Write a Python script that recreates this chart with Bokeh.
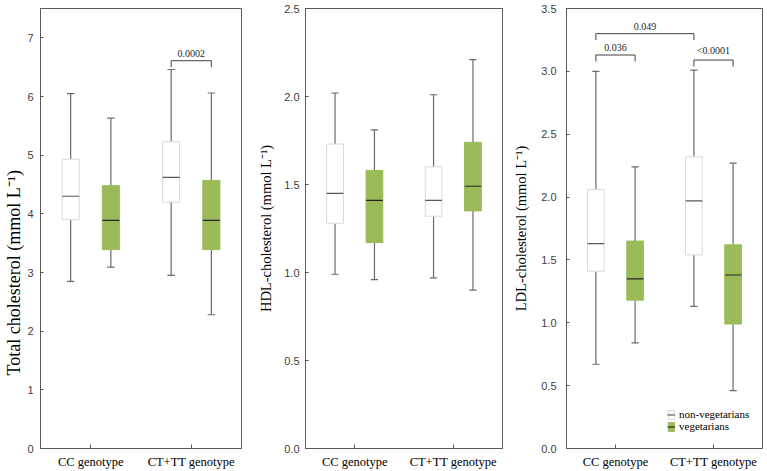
from bokeh.plotting import figure
from bokeh.layouts import row
from bokeh.models import FixedTicker, PrintfTickFormatter, Legend, LegendItem, Range1d, Title
from bokeh.core.properties import value
from bokeh.embed import file_html
from bokeh.resources import INLINE

categories = ["CC genotype", "CT+TT genotype"]
groups = ["non-vegetarians", "vegetarians"]

# five-number summaries per category: (min, q1, median, q3, max)
tc_nonveg = [(2.85, 3.90, 4.30, 4.93, 6.05), (2.95, 4.20, 4.62, 5.23, 6.46)]
tc_veg = [(3.09, 3.39, 3.89, 4.48, 5.63), (2.28, 3.39, 3.89, 4.57, 6.06)]
hdl_nonveg = [(0.99, 1.28, 1.45, 1.73, 2.02), (0.97, 1.32, 1.41, 1.60, 2.01)]
hdl_veg = [(0.96, 1.17, 1.41, 1.58, 1.81), (0.90, 1.35, 1.49, 1.74, 2.21)]
ldl_nonveg = [(0.67, 1.41, 1.63, 2.06, 3.00), (1.13, 1.54, 1.97, 2.32, 3.01)]
ldl_veg = [(0.84, 1.18, 1.35, 1.65, 2.24), (0.46, 0.99, 1.38, 1.62, 2.27)]

# comparisons: (category a, group a, category b, group b, bracket level, p-value)
tc_pvals = [(1, 0, 1, 1, 6.61, "0.0002")]
hdl_pvals = []
ldl_pvals = [(0, 0, 1, 0, 3.30, "0.049"),
             (0, 0, 0, 1, 3.13, "0.036"),
             (1, 0, 1, 1, 3.09, "<0.0001")]

tc_ticks = [0, 1, 2, 3, 4, 5, 6, 7]
hdl_ticks = [0.0, 0.5, 1.0, 1.5, 2.0, 2.5]
ldl_ticks = [0.0, 0.5, 1.0, 1.5, 2.0, 2.5, 3.0, 3.5]

GREEN = "#9bbb59"
BOX_LINE = ["#d9d9d9", "#9bbb59"]
BOX_FILL = ["#ffffff", GREEN]
MED_COLOR = ["#595959", "#262626"]
WHISK = "#6b6b6b"
FRAME = "#595959"
SERIF = "Liberation Serif"
SANS = "Liberation Sans"

OFFS = [-0.2, 0.2]
BOXW = 0.17
CAPW = 0.037


def make_panel(ylabel, series, y_end, ticks, fmt, comps, width, bl, br, legend=False,
               label_standoff=5, tick_standoff=6, label_size="14.5px", side_title=False):
    p = figure(width=width, height=471, output_backend="svg", toolbar_location=None,
               x_range=Range1d(0, 2), y_range=Range1d(0, y_end),
               min_border_left=bl, min_border_right=br, min_border_top=8, min_border_bottom=23)
    p.xgrid.visible = False
    p.ygrid.visible = False
    p.outline_line_color = FRAME
    p.outline_line_width = 1
    p.background_fill_color = "white"
    p.border_fill_color = "white"

    cat_x = [i + 0.5 for i in range(len(categories))]
    legend_items = []
    for gi, data in enumerate(series):
        xs = [c + OFFS[gi] for c in cat_x]
        lo = [d[0] for d in data]
        q1 = [d[1] for d in data]
        md = [d[2] for d in data]
        q3 = [d[3] for d in data]
        hi = [d[4] for d in data]
        p.segment(x0=xs, y0=lo, x1=xs, y1=q1, line_color=WHISK, line_width=1.2)
        p.segment(x0=xs, y0=q3, x1=xs, y1=hi, line_color=WHISK, line_width=1.2)
        p.segment(x0=[x - CAPW for x in xs], y0=hi, x1=[x + CAPW for x in xs], y1=hi,
                  line_color=WHISK, line_width=1.2)
        p.segment(x0=[x - CAPW for x in xs], y0=lo, x1=[x + CAPW for x in xs], y1=lo,
                  line_color=WHISK, line_width=1.2)
        box = p.vbar(x=xs, width=BOXW, bottom=q1, top=q3, fill_color=BOX_FILL[gi],
                     line_color=BOX_LINE[gi], line_width=1)
        med = p.segment(x0=[x - BOXW / 2 for x in xs], y0=md, x1=[x + BOXW / 2 for x in xs], y1=md,
                        line_color=MED_COLOR[gi], line_width=1.2)
        legend_items.append(LegendItem(label=groups[gi], renderers=[box, med]))

    drop = y_end * 6.5 / 440.0
    for (ca, ga, cb, gb, lev, lab) in comps:
        xa = cat_x[ca] + OFFS[ga]
        xb = cat_x[cb] + OFFS[gb]
        p.segment(x0=[xa, xa, xb], y0=[lev, lev, lev], x1=[xb, xa, xb], y1=[lev, lev - drop, lev - drop],
                  line_color="#404040", line_width=1)
        p.text(x=[(xa + xb) / 2], y=[lev], text=[lab], text_font=value(SERIF), text_font_size="10px",
               text_color="#262626", text_align="center", text_baseline="bottom", y_offset=-4)

    p.xaxis.ticker = FixedTicker(ticks=cat_x)
    p.xaxis.major_label_overrides = {cat_x[i]: categories[i] for i in range(len(categories))}
    p.xaxis.minor_tick_line_color = None
    p.xaxis.major_tick_in = 4
    p.xaxis.major_tick_out = 0
    p.xaxis.axis_line_color = FRAME
    p.xaxis.major_tick_line_color = FRAME
    p.xaxis.major_label_text_font = SERIF
    p.xaxis.major_label_text_font_size = "12.5px"
    p.xaxis.major_label_text_color = "#000000"
    p.xaxis.major_label_standoff = 6

    p.yaxis.ticker = FixedTicker(ticks=ticks)
    p.yaxis.formatter = PrintfTickFormatter(format=fmt)
    p.yaxis.minor_tick_line_color = None
    p.yaxis.major_tick_in = 3
    p.yaxis.major_tick_out = 0
    p.yaxis.axis_line_color = FRAME
    p.yaxis.major_tick_line_color = FRAME
    p.yaxis.major_label_text_font = SANS
    p.yaxis.major_label_text_font_size = "11px"
    p.yaxis.major_label_text_color = "#404040"
    p.yaxis.major_label_standoff = tick_standoff

    if side_title:
        t = Title(text=ylabel, align="left", offset=73, vertical_align="middle", standoff=0,
                  text_font=SERIF, text_font_size=label_size, text_font_style="normal",
                  text_color="#000000")
        p.add_layout(t, "left")
    else:
        p.yaxis.axis_label = ylabel
        p.yaxis.axis_label_text_font = SERIF
        p.yaxis.axis_label_text_font_size = label_size
        p.yaxis.axis_label_text_font_style = "normal"
        p.yaxis.axis_label_text_color = "#000000"
        p.yaxis.axis_label_standoff = label_standoff

    if legend:
        lg = Legend(items=legend_items, location=(101, 16), padding=0, margin=0, spacing=0,
                    glyph_width=8, glyph_height=11, label_height=11, label_standoff=4,
                    label_text_font=SERIF, label_text_font_size="11px", label_text_color="#000000",
                    border_line_alpha=0, background_fill_alpha=0)
        p.add_layout(lg)
    return p


p1 = make_panel("Total cholesterol (mmol L\u207b\u00b9)", [tc_nonveg, tc_veg], 7.5, tc_ticks, "%d",
                tc_pvals, 255, 40, 14, tick_standoff=7, label_size="18px", side_title=True)
p2 = make_panel("HDL-cholesterol (mmol L\u207b\u00b9)", [hdl_nonveg, hdl_veg], 2.5, hdl_ticks, "%.1f",
                hdl_pvals, 255, 45, 8, tick_standoff=6, label_standoff=7)
p3 = make_panel("LDL-cholesterol (mmol L\u207b\u00b9)", [ldl_nonveg, ldl_veg], 3.5, ldl_ticks, "%.1f",
                ldl_pvals, 257, 52, 5, legend=True, tick_standoff=10, label_standoff=9)

layout = row(p1, p2, p3)
open("out.html", "w").write(file_html(layout, INLINE))
